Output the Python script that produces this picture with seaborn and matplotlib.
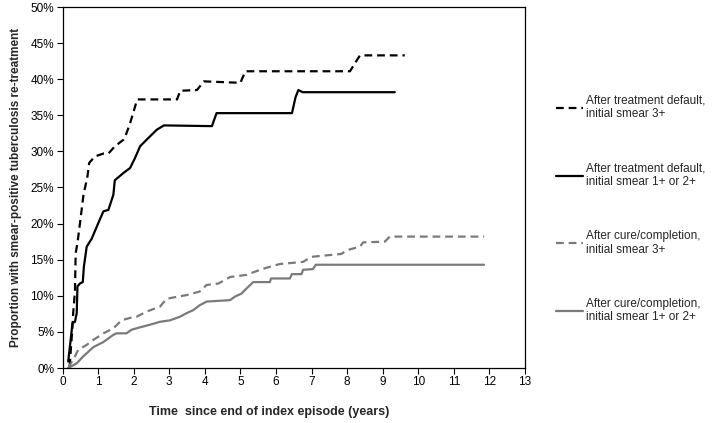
import matplotlib
matplotlib.use("Agg")
import matplotlib.pyplot as plt
import seaborn as sns
import pandas as pd
from matplotlib.ticker import FuncFormatter

# ---- data (years, % re-treated) ----
default_3_x = [0.20, 0.28, 0.30, 0.35, 0.37, 0.42, 0.49, 0.59, 0.70, 0.75, 0.91, 1.15, 1.29, 1.47,
               1.71, 1.76, 1.90, 2.10, 3.22, 3.31, 3.78, 3.97, 5.00, 5.14, 8.08, 8.36, 9.62]
default_3_y = [0.2, 5.7, 7.6, 10.6, 15.9, 17.3, 20.0, 24.0, 26.5, 28.4, 29.3, 29.7, 29.7, 30.7,
               31.6, 32.0, 33.9, 37.2, 37.2, 38.4, 38.5, 39.7, 39.5, 41.1, 41.1, 43.3, 43.3]

default_12_x = [0.16, 0.23, 0.28, 0.35, 0.40, 0.42, 0.49, 0.57, 0.60, 0.68, 0.82, 1.00, 1.15, 1.29,
                1.43, 1.47, 1.71, 1.90, 2.04, 2.18, 2.36, 2.65, 2.85, 4.20, 4.33, 6.45, 6.55, 6.63,
                6.75, 9.34]
default_12_y = [0.9, 3.9, 6.2, 6.4, 7.6, 11.3, 11.7, 11.9, 14.0, 16.8, 17.9, 20.0, 21.7, 21.9,
                24.0, 26.0, 27.0, 27.7, 29.1, 30.7, 31.6, 33.0, 33.6, 33.5, 35.3, 35.3, 37.5, 38.5,
                38.2, 38.2]

cure_3_x = [0.16, 0.35, 0.44, 0.68, 0.87, 1.15, 1.43, 1.66, 1.94, 2.08, 2.36, 2.74, 2.93, 3.49,
            3.86, 4.05, 4.38, 4.71, 5.17, 5.55, 5.88, 6.11, 6.76, 7.00, 7.84, 7.98, 8.36, 8.45,
            9.06, 9.20, 11.85]
cure_3_y = [0.0, 1.6, 2.5, 3.2, 3.9, 4.8, 5.5, 6.6, 7.0, 7.1, 7.8, 8.5, 9.6, 10.1,
            10.6, 11.5, 11.7, 12.6, 12.9, 13.6, 14.1, 14.4, 14.7, 15.4, 15.8, 16.3, 16.8, 17.4,
            17.5, 18.2, 18.2]

cure_12_x = [0.16, 0.40, 0.58, 0.87, 1.15, 1.43, 1.52, 1.80, 1.94, 2.08, 2.46, 2.74, 3.02, 3.30,
             3.49, 3.67, 3.86, 4.05, 4.71, 4.85, 5.03, 5.17, 5.36, 5.83, 5.86, 6.39, 6.45, 6.72,
             6.76, 7.04, 7.12, 11.85]
cure_12_y = [0.0, 0.65, 1.6, 2.9, 3.6, 4.6, 4.8, 4.8, 5.3, 5.5, 6.0, 6.4, 6.6, 7.1,
             7.6, 8.0, 8.7, 9.2, 9.4, 9.9, 10.3, 11.0, 11.9, 11.9, 12.4, 12.4, 13.0, 13.0,
             13.6, 13.7, 14.3, 14.3]

labels = ["After treatment default,\ninitial smear 3+",
          "After treatment default,\ninitial smear 1+ or 2+",
          "After cure/completion,\ninitial smear 3+",
          "After cure/completion,\ninitial smear 1+ or 2+"]
x_ticks = list(range(0, 14))
y_ticks = list(range(0, 51, 5))

sns.set_theme(style="white")
plt.rcParams['font.family'] = ['Liberation Sans', 'DejaVu Sans']

fig = plt.figure(figsize=(7.13, 4.23), dpi=100)
ax = fig.add_axes([62.5 / 713, 55 / 423, (525 - 62.5) / 713, (368 - 7) / 423])

series = [
    (default_3_x, default_3_y, "black", (3.5, 2.2)),
    (default_12_x, default_12_y, "black", None),
    (cure_3_x, cure_3_y, "#7a7a7a", (3.5, 2.2)),
    (cure_12_x, cure_12_y, "#7a7a7a", None),
]
handles = []
for (xs, ys, col, dash), lab in zip(series, labels):
    df = pd.DataFrame({"x": xs, "y": ys})
    sns.lineplot(data=df, x="x", y="y", ax=ax, sort=False, estimator=None,
                 color=col, linewidth=1.6, label=lab)
    line = ax.get_lines()[-1]
    if dash is not None:
        line.set_dashes(dash)
    handles.append(line)

ax.set_xlim(0, 13)
ax.set_ylim(0, 50)
ax.set_xticks(x_ticks)
ax.set_yticks(y_ticks)
ax.yaxis.set_major_formatter(FuncFormatter(lambda v, p: f"{int(v)}%"))
ax.tick_params(axis="both", direction="out", length=4, width=0.8, colors="black",
               labelsize=8.5, left=True, bottom=True, pad=2)
for s in ax.spines.values():
    s.set_color("black")
    s.set_linewidth(0.9)
ax.set_xlabel("Time  since end of index episode (years)", fontsize=9, fontweight="bold")
ax.xaxis.set_label_coords((269 - 62.5) / 462.5, -(412 - 368) / 361, transform=ax.transAxes)
ax.xaxis.label.set_va("center")
ax.set_ylabel("Proportion with smear-positive tuberculosis re-treatment", fontsize=8.5,
              fontweight="bold", labelpad=6)
ax.get_legend().remove()

fig.legend(handles=handles, labels=labels, loc="center left",
           bbox_to_anchor=(550 / 713, (423 - 209) / 423), frameon=False, fontsize=8.5,
           handlelength=2.3, handletextpad=0.25, labelspacing=3.55, borderpad=0)

fig.savefig("out.png", dpi=100)
